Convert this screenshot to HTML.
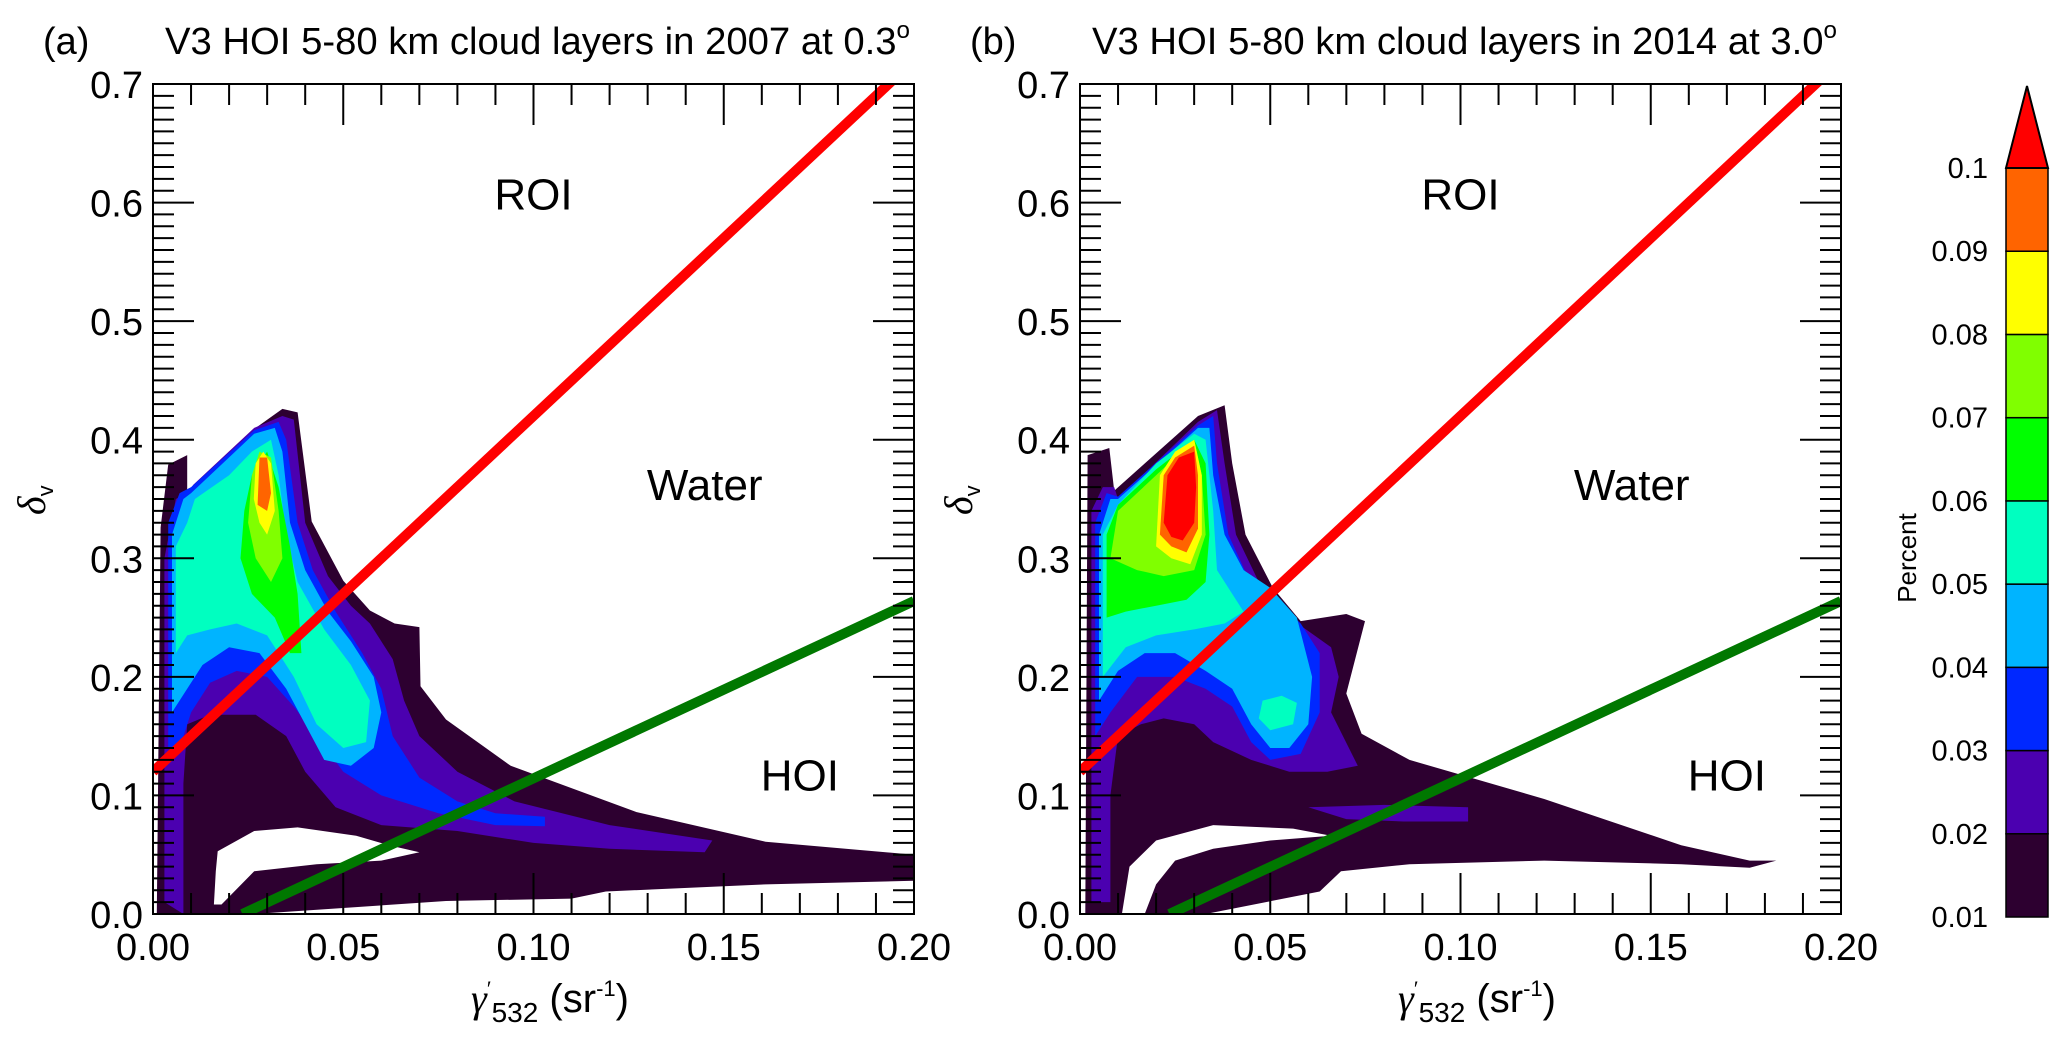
<!DOCTYPE html>
<html><head><meta charset="utf-8">
<style>
html,body{margin:0;padding:0;background:#fff;}
svg{display:block;font-family:"Liberation Sans",Arial,sans-serif;}
</style></head>
<body>
<svg id="fig" width="2067" height="1038" viewBox="0 0 2067 1038" xmlns="http://www.w3.org/2000/svg"></svg>
<script>
// ---------- data ----------
const xTicks = [0.00, 0.05, 0.10, 0.15, 0.20];
const xTickLabels = ["0.00", "0.05", "0.10", "0.15", "0.20"];
const yTicks = [0.0, 0.1, 0.2, 0.3, 0.4, 0.5, 0.6, 0.7];
const yTickLabels = ["0.0", "0.1", "0.2", "0.3", "0.4", "0.5", "0.6", "0.7"];
const levelColors = ["#2d0030", "#4b00b0", "#0028ff", "#00b4ff", "#00ffc0", "#00ff00", "#80ff00", "#ffff00", "#ff6400", "#ff0000"];
const levelLabels = ["0.01", "0.02", "0.03", "0.04", "0.05", "0.06", "0.07", "0.08", "0.09", "0.1"];
const redLine = [0.0, 0.12, 0.2, 0.72];
const greenLine = [0.0235, 0.0, 0.2, 0.264];

const contoursA = [
 [0, [[0.001,0],[0.002,0.326],[0.004,0.379],[0.009,0.387],[0.009,0.348],[0.0106,0.359],[0.0266,0.409],[0.034,0.426],[0.038,0.423],[0.0417,0.331],[0.050,0.281],[0.057,0.256],[0.0635,0.245],[0.070,0.242],[0.0703,0.192],[0.077,0.164],[0.094,0.125],[0.127,0.086],[0.161,0.061],[0.2,0.050],[0.2,0.028],[0.161,0.025],[0.119,0.019],[0.11,0.013],[0.077,0.011],[0.0266,0]]],
 [1, [[0.003,0.01],[0.003,0.30],[0.006,0.35],[0.009,0.355],[0.0106,0.362],[0.0266,0.410],[0.034,0.420],[0.037,0.417],[0.040,0.33],[0.046,0.285],[0.052,0.26],[0.057,0.245],[0.063,0.215],[0.066,0.18],[0.070,0.15],[0.080,0.12],[0.095,0.095],[0.120,0.075],[0.147,0.062],[0.145,0.052],[0.120,0.055],[0.100,0.060],[0.080,0.070],[0.060,0.075],[0.048,0.09],[0.040,0.12],[0.035,0.15],[0.027,0.168],[0.015,0.168],[0.009,0.16],[0.008,0.11],[0.008,0.0]]],
 [-1, [[0.0165,0.036],[0.017,0.053],[0.0266,0.070],[0.038,0.073],[0.0534,0.066],[0.062,0.058],[0.070,0.052],[0.060,0.045],[0.043,0.042],[0.0266,0.036],[0.018,0.008],[0.016,0.008]]],
 [2, [[0.004,0.14],[0.004,0.33],[0.007,0.355],[0.010,0.36],[0.0266,0.408],[0.033,0.415],[0.035,0.40],[0.038,0.33],[0.042,0.29],[0.048,0.255],[0.055,0.22],[0.060,0.19],[0.063,0.15],[0.070,0.115],[0.080,0.095],[0.090,0.085],[0.103,0.082],[0.103,0.074],[0.090,0.075],[0.075,0.085],[0.060,0.10],[0.050,0.12],[0.043,0.15],[0.037,0.175],[0.030,0.20],[0.022,0.205],[0.015,0.195],[0.010,0.17],[0.007,0.14]]],
 [3, [[0.005,0.17],[0.005,0.32],[0.008,0.35],[0.010,0.355],[0.0266,0.405],[0.032,0.41],[0.034,0.39],[0.036,0.33],[0.040,0.29],[0.046,0.255],[0.052,0.23],[0.058,0.2],[0.060,0.17],[0.058,0.14],[0.052,0.125],[0.045,0.13],[0.040,0.16],[0.035,0.19],[0.028,0.22],[0.020,0.225],[0.013,0.21],[0.009,0.19]]],
 [4, [[0.006,0.22],[0.006,0.31],[0.009,0.33],[0.011,0.35],[0.02,0.37],[0.026,0.39],[0.031,0.40],[0.033,0.37],[0.035,0.32],[0.038,0.28],[0.045,0.24],[0.052,0.21],[0.057,0.18],[0.056,0.145],[0.050,0.14],[0.043,0.16],[0.037,0.20],[0.030,0.235],[0.022,0.245],[0.015,0.24],[0.009,0.235]]],
 [5, [[0.023,0.30],[0.024,0.34],[0.026,0.37],[0.030,0.39],[0.033,0.36],[0.036,0.31],[0.038,0.27],[0.039,0.22],[0.036,0.22],[0.032,0.25],[0.026,0.27]]],
 [6, [[0.025,0.33],[0.026,0.37],[0.028,0.39],[0.031,0.385],[0.033,0.34],[0.034,0.30],[0.031,0.28],[0.027,0.30]]],
 [7, [[0.0265,0.35],[0.027,0.38],[0.029,0.39],[0.031,0.38],[0.032,0.34],[0.030,0.32],[0.028,0.33]]],
 [8, [[0.0275,0.345],[0.028,0.385],[0.030,0.385],[0.031,0.355],[0.030,0.34]]]
];
const contoursB = [
 [0, [[0.0014,0],[0.002,0.387],[0.0077,0.393],[0.009,0.357],[0.031,0.42],[0.038,0.429],[0.040,0.38],[0.0435,0.32],[0.0507,0.275],[0.058,0.247],[0.070,0.253],[0.0749,0.247],[0.070,0.186],[0.074,0.152],[0.0866,0.13],[0.122,0.097],[0.158,0.058],[0.176,0.045],[0.183,0.045],[0.176,0.039],[0.158,0.042],[0.122,0.045],[0.0866,0.042],[0.0686,0.036],[0.063,0.019],[0.033,0]]],
 [1, [[0.003,0.01],[0.003,0.34],[0.006,0.36],[0.009,0.36],[0.010,0.35],[0.031,0.415],[0.036,0.425],[0.038,0.38],[0.041,0.32],[0.047,0.28],[0.055,0.25],[0.066,0.225],[0.068,0.2],[0.066,0.17],[0.073,0.125],[0.065,0.12],[0.055,0.12],[0.045,0.13],[0.035,0.145],[0.030,0.16],[0.022,0.165],[0.016,0.16],[0.010,0.15],[0.008,0.10],[0.008,0.01]]],
 [1, [[0.06,0.09],[0.08,0.092],[0.102,0.09],[0.102,0.078],[0.085,0.078],[0.07,0.08]]],
 [-1, [[0.011,0],[0.013,0.04],[0.02,0.062],[0.035,0.075],[0.056,0.072],[0.066,0.066],[0.05,0.062],[0.035,0.055],[0.025,0.045],[0.02,0.025],[0.017,0]]],
 [2, [[0.004,0.15],[0.004,0.33],[0.007,0.355],[0.010,0.352],[0.031,0.412],[0.035,0.42],[0.036,0.38],[0.039,0.32],[0.044,0.285],[0.050,0.27],[0.058,0.245],[0.063,0.22],[0.063,0.17],[0.058,0.135],[0.050,0.13],[0.045,0.145],[0.040,0.175],[0.033,0.19],[0.025,0.2],[0.015,0.2],[0.008,0.17]]],
 [3, [[0.005,0.18],[0.005,0.32],[0.008,0.35],[0.010,0.35],[0.031,0.41],[0.034,0.41],[0.035,0.37],[0.038,0.32],[0.043,0.29],[0.050,0.275],[0.057,0.25],[0.061,0.2],[0.060,0.16],[0.055,0.14],[0.050,0.14],[0.045,0.16],[0.040,0.19],[0.033,0.205],[0.025,0.22],[0.017,0.22],[0.010,0.205]]],
 [4, [[0.006,0.2],[0.006,0.32],[0.010,0.345],[0.020,0.38],[0.030,0.405],[0.033,0.40],[0.035,0.34],[0.036,0.29],[0.040,0.27],[0.043,0.255],[0.038,0.245],[0.030,0.24],[0.020,0.235],[0.012,0.225]]],
 [4, [[0.047,0.165],[0.048,0.18],[0.053,0.184],[0.057,0.178],[0.056,0.16],[0.050,0.155]]],
 [5, [[0.007,0.25],[0.007,0.32],[0.010,0.345],[0.020,0.375],[0.030,0.40],[0.033,0.38],[0.034,0.32],[0.033,0.28],[0.028,0.265],[0.020,0.26],[0.012,0.255]]],
 [6, [[0.008,0.30],[0.010,0.34],[0.020,0.37],[0.030,0.40],[0.032,0.37],[0.033,0.32],[0.030,0.29],[0.022,0.285],[0.015,0.29]]],
 [7, [[0.020,0.31],[0.021,0.37],[0.025,0.39],[0.030,0.40],[0.032,0.37],[0.032,0.32],[0.029,0.295],[0.024,0.30]]],
 [8, [[0.021,0.32],[0.022,0.37],[0.025,0.385],[0.030,0.395],[0.031,0.37],[0.031,0.325],[0.028,0.305],[0.024,0.31]]],
 [9, [[0.022,0.33],[0.023,0.37],[0.026,0.385],[0.030,0.39],[0.0305,0.36],[0.030,0.33],[0.027,0.315],[0.024,0.318]]]
];

// ---------- drawing ----------
const NS = "http://www.w3.org/2000/svg";
const svg = document.getElementById("fig");
function mk(tag, attrs, parent) {
  const e = document.createElementNS(NS, tag);
  for (const k in attrs) e.setAttribute(k, attrs[k]);
  (parent || svg).appendChild(e);
  return e;
}
const PW = 761, PH = 830, PT = 84;
const XMAX = 0.2, YMAX = 0.7;

function panel(left, letter, title, contours, id) {
  const g = mk("g", {});
  
  
  const sx = v => left + v / XMAX * PW;
  const sy = v => PT + PH - v / YMAX * PH;
  const defs = mk("defs", {}, g);
  const cp = mk("clipPath", {id: "clip" + id}, defs);
  mk("rect", {x: left, y: PT, width: PW, height: PH}, cp);
  const cg = mk("g", {"clip-path": "url(#clip" + id + ")"}, g);
  
  
  contours.forEach(([lvl, poly]) => {
    const p = mk("polygon", {points: poly.map(q => sx(q[0]).toFixed(1) + "," + sy(q[1]).toFixed(1)).join(" "),
      fill: lvl < 0 ? "#fff" : levelColors[lvl]}, cg);
    
    
  });
  const rl = mk("line", {x1: sx(redLine[0]), y1: sy(redLine[1]), x2: sx(redLine[2]), y2: sy(redLine[3]), stroke: "#ff0000", "stroke-width": 10}, cg);
  
  
  const gl = mk("line", {x1: sx(greenLine[0]), y1: sy(greenLine[1]), x2: sx(greenLine[2]), y2: sy(greenLine[3]), stroke: "#007800", "stroke-width": 10}, cg);
  
  
  let d = "";
  for (let i = 0; i <= 20; i++) {
    const v = i * 0.01, x = sx(v), L = (i % 5 === 0) ? 41 : 21;
    d += `M${x},${PT}v${L}M${x},${PT + PH}v${-L}`;
  }
  for (let i = 0; i <= 70; i++) {
    const v = i * 0.01, y = sy(v), L = (i % 10 === 0) ? 41 : 21;
    d += `M${left},${y}h${L}M${left + PW},${y}h${-L}`;
  }
  const tk = mk("path", {d: d, stroke: "#000", "stroke-width": 2, fill: "none"}, g);
  
  
  const fr = mk("rect", {x: left, y: PT, width: PW, height: PH, fill: "none", stroke: "#000", "stroke-width": 2}, g);
  
  
  xTicks.forEach((v, i) => {
    const t = mk("text", {x: sx(v), y: 960, "font-size": 38, "text-anchor": "middle"}, g);
    t.textContent = xTickLabels[i];
    
    
  });
  yTicks.forEach((v, i) => {
    const t = mk("text", {x: left - 10, y: sy(v) + 14, "font-size": 38, "text-anchor": "end"}, g);
    t.textContent = yTickLabels[i];
    
    
  });
  const lab = (txt, x, y, name) => {
    const t = mk("text", {x: sx(x), y: sy(y) + 15, "font-size": 44, "text-anchor": "middle"}, g);
    t.textContent = txt;
    
    
  };
  lab("ROI", 0.10, 0.607, "roi-label");
  lab("Water", 0.145, 0.362, "water-label");
  lab("HOI", 0.17, 0.117, "hoi-label");
  const pl = mk("text", {x: left - 110, y: 54, "font-size": 38}, g);
  pl.textContent = "(" + letter + ")";
  
  
  const tt = mk("text", {x: left + 12, y: 54, "font-size": 38, textLength: 745, lengthAdjust: "spacingAndGlyphs"}, g);
  tt.innerHTML = title + '<tspan dy="-16" font-size="24">o</tspan>';
  
  
  const xt = mk("text", {x: left + 318, y: 1012, "font-size": 40, "font-family": "Liberation Serif, serif"}, g);
  xt.innerHTML = '<tspan font-style="italic">γ</tspan><tspan dy="-16" font-size="22">′</tspan><tspan dy="26" font-size="28" font-family="Liberation Sans, sans-serif">532</tspan><tspan dy="-10" font-family="Liberation Sans, sans-serif"> (sr</tspan><tspan dy="-16" font-size="22" font-family="Liberation Sans, sans-serif">-1</tspan><tspan dy="16" font-family="Liberation Sans, sans-serif">)</tspan>';
  
  
  const yt = mk("text", {transform: `translate(${left - 108},515) rotate(-90)`, "font-size": 40, "font-family": "Liberation Serif, serif"}, g);
  yt.innerHTML = '<tspan font-style="italic">δ</tspan><tspan dy="8" font-size="22" font-family="Liberation Sans, sans-serif">v</tspan>';
  
  
}
panel(153, "a", "V3 HOI 5-80 km cloud layers in 2007 at 0.3", contoursA, "a");
panel(1080, "b", "V3 HOI 5-80 km cloud layers in 2014 at 3.0", contoursB, "b");

const cb = mk("g", {});


const CBL = 2006, CBR = 2048, CBT = 168, CBB = 917;
const seg = (CBB - CBT) / 9;
for (let i = 0; i < 9; i++) {
  const r = mk("rect", {x: CBL, y: CBB - (i + 1) * seg, width: CBR - CBL, height: seg, fill: levelColors[i], stroke: "#000", "stroke-width": 1.5}, cb);
  
  
}
const arr = mk("polygon", {points: `${CBL},${CBT} ${CBR},${CBT} ${(CBL + CBR) / 2},86`, fill: levelColors[9], stroke: "#000", "stroke-width": 2}, cb);


levelLabels.forEach((l, i) => {
  const t = mk("text", {x: 1988, y: CBB - i * seg + 10, "font-size": 29, "text-anchor": "end"}, cb);
  t.textContent = l;
  
  
});
const pc = mk("text", {transform: "translate(1916,558) rotate(-90)", "font-size": 26, "text-anchor": "middle"}, cb);
pc.textContent = "Percent";


</script>
</body></html>
